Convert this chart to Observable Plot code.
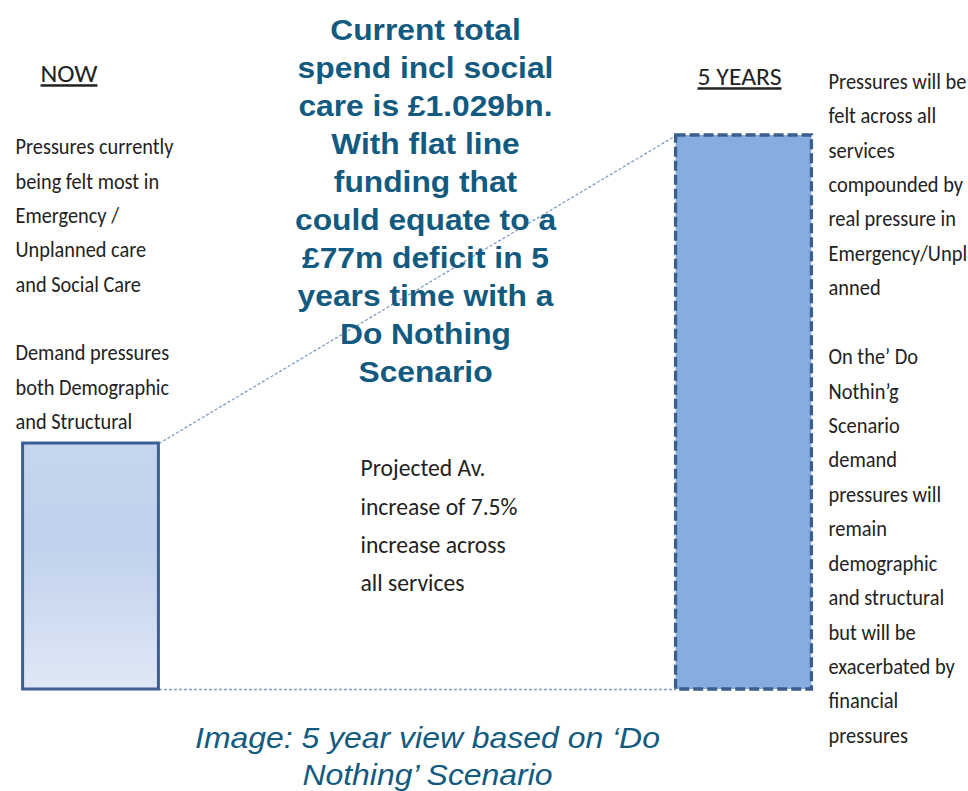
<!DOCTYPE html>
<html>
<head>
<meta charset="utf-8">
<script src="https://cdn.jsdelivr.net/npm/d3@7"></script>
<script src="https://cdn.jsdelivr.net/npm/@observablehq/plot@0.6"></script>
<style>
  html, body { margin: 0; padding: 0; background: #ffffff; }
  #chart svg { display: block; }
</style>
</head>
<body>
<div id="chart"></div>
<script>
// ---- data ----
const periods = ["NOW", "5 YEARS"];
const relativeHeight = [0.444, 1.0]; // bar heights, schematic (5-year bar = 1)
const nowNotes = [
  "Pressures currently",
  "being felt most in",
  "Emergency /",
  "Unplanned care",
  "and Social Care",
  "",
  "Demand pressures",
  "both Demographic",
  "and Structural"
];
const futureNotes = [
  "Pressures will be",
  "felt across all",
  "services",
  "compounded by",
  "real pressure in",
  "Emergency/Unpl",
  "anned",
  "",
  "On the\u2019 Do",
  "Nothin\u2019g",
  "Scenario",
  "demand",
  "pressures will",
  "remain",
  "demographic",
  "and structural",
  "but will be",
  "exacerbated by",
  "financial",
  "pressures"
];
const headline = [
  "Current total",
  "spend incl social",
  "care is \u00a31.029bn.",
  "With flat line",
  "funding that",
  "could equate to a",
  "\u00a377m deficit in 5",
  "years time with a",
  "Do Nothing",
  "Scenario"
];
const growthNote = [
  "Projected Av.",
  "increase of 7.5%",
  "increase across",
  "all services"
];
const caption = [
  "Image: 5 year view based on \u2018Do",
  "Nothing\u2019 Scenario"
];

// ---- build ----
const HW = 0.104; // half bar width in position units
const bars = periods.map((p, i) => ({period: p, pos: i, value: relativeHeight[i]}));
const links = [
  {x1: bars[0].pos + HW, y1: bars[0].value, x2: bars[1].pos - HW, y2: bars[1].value},
  {x1: bars[0].pos + HW, y1: 0, x2: bars[1].pos - HW, y2: 0}
];

const narrow = "Carlito, Calibri, Lato, sans-serif";
const arial = "'Liberation Sans', Arial, sans-serif";
const ink = "#222222";
const teal = "#125a80";

const chart = Plot.plot({
  width: 968,
  height: 791,
  margin: 0,
  x: {domain: [0, 1], range: [90.5, 743.5], axis: null},
  y: {domain: [0, 1], range: [689, 135], axis: null},
  style: {background: "#ffffff", overflow: "visible"},
  marks: [
    Plot.link(links, {x1: "x1", y1: "y1", x2: "x2", y2: "y2",
      stroke: "#7f9cc2", strokeWidth: 1.3, strokeDasharray: "3,2"}),
    Plot.rect(bars.filter(d => d.pos === 0), {
      x1: d => d.pos - HW, x2: d => d.pos + HW, y1: 0, y2: "value",
      fill: "url(#nowGrad)", stroke: "#3e5f96", strokeWidth: 3
    }),
    Plot.rect(bars.filter(d => d.pos === 1), {
      x1: d => d.pos - HW, x2: d => d.pos + HW, y1: 0, y2: "value",
      fill: "#85ade0", stroke: "#3b5e8a", strokeWidth: 3.3, strokeDasharray: "10,4"
    }),
    // period labels
    Plot.text([periods[0]], {frameAnchor: "top-left", dx: 68.5, dy: 64, textAnchor: "middle",
      lineAnchor: "top", fontSize: 25, fontFamily: narrow, fill: ink}),
    Plot.text([periods[1]], {frameAnchor: "top-left", dx: 739, dy: 67, textAnchor: "middle",
      lineAnchor: "top", fontSize: 25, fontFamily: narrow, fill: ink}),
    // notes
    Plot.text([nowNotes.join("\n")], {frameAnchor: "top-left", dx: 15, dy: 129.6,
      fontSize: 22, lineHeight: 1.559, fontFamily: narrow, fill: ink}),
    Plot.text([futureNotes.join("\n")], {frameAnchor: "top-left", dx: 828, dy: 63.7,
      fontSize: 22, lineHeight: 1.565, fontFamily: narrow, fill: ink}),
    Plot.text([growthNote.join("\n")], {frameAnchor: "top-left", dx: 360, dy: 448.8,
      fontSize: 25.5, lineHeight: 1.502, fontFamily: narrow, fill: ink}),
    Plot.text([headline.join("\n")], {frameAnchor: "top", dx: 425 - 484, dy: 12,
      fontSize: 30, lineHeight: 1.27, fontFamily: arial, fontWeight: "bold", fill: teal}),
    Plot.text([caption.join("\n")], {frameAnchor: "top", dx: 427 - 484, dy: 721.7,
      fontSize: 30, lineHeight: 1.233, fontFamily: arial, fontStyle: "italic", fill: teal})
  ]
});

// gradient for the NOW bar
const defs = d3.select(chart).insert("defs", ":first-child");
const grad = defs.append("linearGradient").attr("id", "nowGrad")
  .attr("x1", 0).attr("y1", 0).attr("x2", 0).attr("y2", 1);
grad.append("stop").attr("offset", "0%").attr("stop-color", "#c6d6ee");
grad.append("stop").attr("offset", "40%").attr("stop-color", "#bfd1ec");
grad.append("stop").attr("offset", "100%").attr("stop-color", "#e0e8f5");

// underline period labels
d3.select(chart).selectAll("text").filter(function () {
  return periods.includes(this.textContent);
}).style("text-decoration", "underline");

document.getElementById("chart").appendChild(chart);

// fit text blocks horizontally to the reference line widths (font substitution)
function fitWidth(refLine, target) {
  let textEl = null, lineEl = null;
  chart.querySelectorAll("text").forEach(t => {
    if (textEl) return;
    const spans = t.querySelectorAll("tspan");
    if (spans.length) {
      spans.forEach(s => { if (!lineEl && s.textContent === refLine) { lineEl = s; textEl = t; } });
    } else if (t.textContent === refLine) { lineEl = t; textEl = t; }
  });
  if (!textEl) return;
  const len = lineEl.getComputedTextLength();
  if (!len) return;
  const s = target / len;
  const tr = textEl.getAttribute("transform") || "";
  textEl.setAttribute("transform", (tr + ` scale(${s.toFixed(4)},1)`).trim());
}
fitWidth("Pressures currently", 158);
fitWidth("Pressures will be", 138);
fitWidth("increase of 7.5%", 157);
fitWidth("NOW", 57);
fitWidth("5 YEARS", 84);
fitWidth("spend incl social", 256);
fitWidth("Image: 5 year view based on \u2018Do", 465);
</script>
</body>
</html>
